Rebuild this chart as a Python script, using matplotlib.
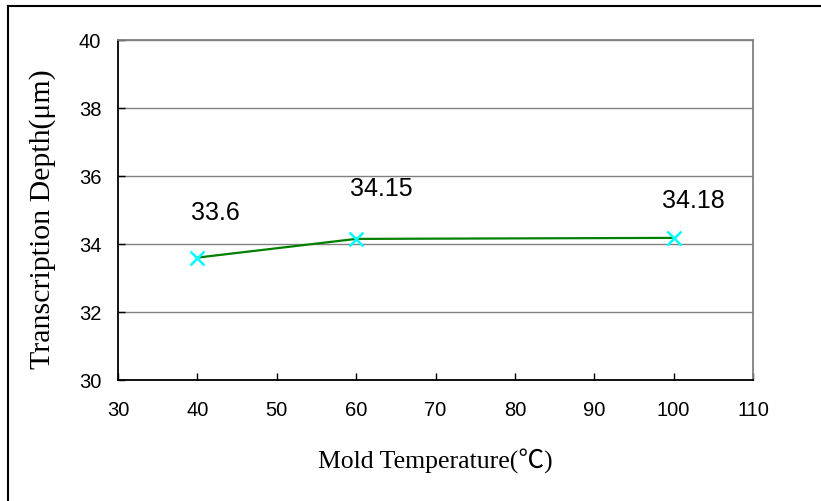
import matplotlib
matplotlib.use("Agg")
import matplotlib.pyplot as plt
from matplotlib.lines import Line2D

# data
temps = [40, 60, 100]
depth = [33.6, 34.15, 34.18]
labels = ["33.6", "34.15", "34.18"]
label_offsets = [(18, 45), (25, 50), (20, 37)]  # pixels

x_ticks = [30, 40, 50, 60, 70, 80, 90, 100, 110]
y_ticks = [30, 32, 34, 36, 38, 40]

SANS = "Liberation Sans"
SERIF = ["Liberation Serif", "Noto Sans CJK JP", "DejaVu Sans"]

fig = plt.figure(figsize=(8.21, 5.01), dpi=100)
ax = fig.add_axes([118 / 821, 121 / 501, 635 / 821, 340 / 501])

ax.plot(temps, depth, color="#008000", lw=1.6, zorder=3)
ax.plot(temps, depth, ls="none", marker="x", ms=10, mew=1.8,
        color="#00FFFF", zorder=4, clip_on=False)

for x, y, t, (dx, dy) in zip(temps, depth, labels, label_offsets):
    ax.annotate(t, (x, y), xytext=(dx, dy), textcoords="offset pixels",
                ha="center", va="center", fontsize=18, family=SANS)

ax.set_xlim(30, 110)
ax.set_ylim(30, 40)
ax.set_xticks(x_ticks)
ax.set_yticks(y_ticks)
ax.yaxis.grid(True, color="#808080", lw=1.0)
ax.set_axisbelow(True)

ax.tick_params(axis="x", direction="in", length=5, width=1, pad=15,
               labelsize=14.5, color="black")
ax.tick_params(axis="y", direction="in", length=5, width=1, pad=12,
               labelsize=14.5, color="black")
for lab in ax.get_xticklabels() + ax.get_yticklabels():
    lab.set_family(SANS)

ax.spines["left"].set_color("black")
ax.spines["bottom"].set_color("black")
ax.spines["left"].set_linewidth(1.3)
ax.spines["bottom"].set_linewidth(1.3)
ax.spines["top"].set_color("#808080")
ax.spines["right"].set_color("#808080")
ax.spines["top"].set_linewidth(1.3)
ax.spines["right"].set_linewidth(1.3)

ax.set_xlabel("Mold Temperature(℃)", fontsize=18.5, family=SERIF)
ax.xaxis.set_label_coords(0.5, -0.241)
ax.xaxis.label.set_va("center")
ax.set_ylabel("Transcription Depth(μm)", fontsize=21.5, family=SERIF)
ax.yaxis.set_label_coords(-(118 - 43) / 635, 0.474)
ax.yaxis.label.set_va("center")

# outer frame (left and top only)
fig.add_artist(Line2D([8 / 821, 8 / 821], [0, 1 - 6 / 501],
                      transform=fig.transFigure, color="black", lw=1.5))
fig.add_artist(Line2D([8 / 821, 1], [1 - 6 / 501, 1 - 6 / 501],
                      transform=fig.transFigure, color="black", lw=1.5))

fig.savefig("out.png", dpi=100)
